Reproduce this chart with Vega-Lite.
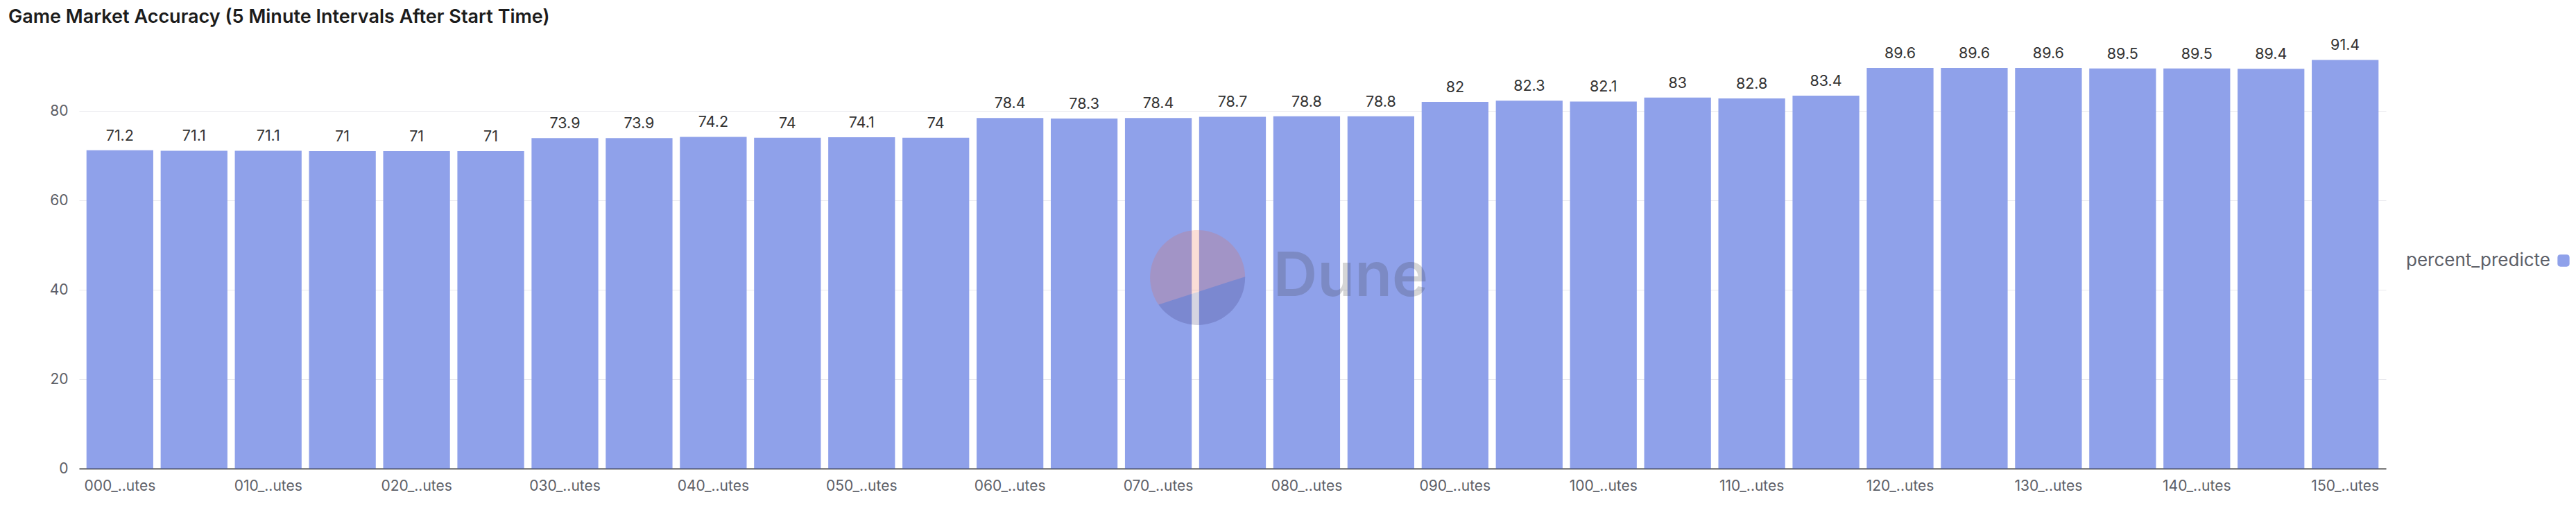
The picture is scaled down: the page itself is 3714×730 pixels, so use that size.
{
  "$schema": "https://vega.github.io/schema/vega-lite/v6.json",
  "width": 3326,
  "height": 645,
  "autosize": {"type": "none"},
  "padding": {"left": 114, "top": 31, "right": 274, "bottom": 54},
  "background": "white",
  "config": {"view": {"stroke": null}},
  "title": {
    "text": "Game Market Accuracy (5 Minute Intervals After Start Time)",
    "anchor": "start",
    "frame": "group",
    "dx": -102,
    "offset": -8,
    "font": "Inter",
    "fontSize": 27,
    "fontWeight": 600,
    "color": "#1c1c1c"
  },
  "data": {
    "values": [
      {"interval": "000_minutes", "percent_predicted": 71.2},
      {"interval": "005_minutes", "percent_predicted": 71.1},
      {"interval": "010_minutes", "percent_predicted": 71.1},
      {"interval": "015_minutes", "percent_predicted": 71},
      {"interval": "020_minutes", "percent_predicted": 71},
      {"interval": "025_minutes", "percent_predicted": 71},
      {"interval": "030_minutes", "percent_predicted": 73.9},
      {"interval": "035_minutes", "percent_predicted": 73.9},
      {"interval": "040_minutes", "percent_predicted": 74.2},
      {"interval": "045_minutes", "percent_predicted": 74},
      {"interval": "050_minutes", "percent_predicted": 74.1},
      {"interval": "055_minutes", "percent_predicted": 74},
      {"interval": "060_minutes", "percent_predicted": 78.4},
      {"interval": "065_minutes", "percent_predicted": 78.3},
      {"interval": "070_minutes", "percent_predicted": 78.4},
      {"interval": "075_minutes", "percent_predicted": 78.7},
      {"interval": "080_minutes", "percent_predicted": 78.8},
      {"interval": "085_minutes", "percent_predicted": 78.8},
      {"interval": "090_minutes", "percent_predicted": 82},
      {"interval": "095_minutes", "percent_predicted": 82.3},
      {"interval": "100_minutes", "percent_predicted": 82.1},
      {"interval": "105_minutes", "percent_predicted": 83},
      {"interval": "110_minutes", "percent_predicted": 82.8},
      {"interval": "115_minutes", "percent_predicted": 83.4},
      {"interval": "120_minutes", "percent_predicted": 89.6},
      {"interval": "125_minutes", "percent_predicted": 89.6},
      {"interval": "130_minutes", "percent_predicted": 89.6},
      {"interval": "135_minutes", "percent_predicted": 89.5},
      {"interval": "140_minutes", "percent_predicted": 89.5},
      {"interval": "145_minutes", "percent_predicted": 89.4},
      {"interval": "150_minutes", "percent_predicted": 91.4}
    ]
  },
  "layer": [
    {
      "mark": {"type": "bar"},
      "encoding": {
        "x": {
          "field": "interval",
          "type": "nominal",
          "sort": null,
          "scale": {"paddingInner": 0.1, "paddingOuter": 0.1},
          "axis": {
            "title": null,
            "values": ["000_minutes", "010_minutes", "020_minutes", "030_minutes", "040_minutes", "050_minutes", "060_minutes", "070_minutes", "080_minutes", "090_minutes", "100_minutes", "110_minutes", "120_minutes", "130_minutes", "140_minutes", "150_minutes"],
            "labelExpr": "slice(datum.label,0,4)+'..'+slice(datum.label,-4)",
            "labelAngle": 0,
            "ticks": false,
            "grid": false,
            "domainColor": "#1f1f1f",
            "domainWidth": 1.5,
            "labelFont": "Inter",
            "labelFontSize": 21,
            "labelColor": "#5d6068",
            "labelPadding": 14
          }
        },
        "y": {
          "field": "percent_predicted",
          "type": "quantitative",
          "scale": {"domain": [0, 100], "nice": false},
          "axis": {
            "title": null,
            "values": [0, 20, 40, 60, 80],
            "domain": false,
            "ticks": false,
            "gridColor": "#e9e9ee",
            "gridWidth": 1.2,
            "labelFont": "Inter",
            "labelFontSize": 21,
            "labelColor": "#5d6068",
            "labelPadding": 16
          }
        },
        "color": {
          "datum": "percent_predicted",
          "scale": {"range": ["#8fa1ea"]},
          "legend": {
            "title": null,
            "orient": "none",
            "legendX": 3569,
            "legendY": 332,
            "symbolType": "M -0.5 -1 L 0.5 -1 Q 1 -1 1 -0.5 L 1 0.5 Q 1 1 0.5 1 L -0.5 1 Q -1 1 -1 0.5 L -1 -0.5 Q -1 -1 -0.5 -1 Z",
            "symbolSize": 300,
            "symbolStrokeWidth": 0,
            "symbolOpacity": 1,
            "labelAlign": "right",
            "labelOffset": -32,
            "labelLimit": 0,
            "labelFont": "Inter",
            "labelFontSize": 26,
            "labelColor": "#5d6068",
            "labelExpr": "slice(datum.label,0,16)"
          }
        }
      }
    },
    {
      "mark": {"type": "text", "baseline": "bottom", "dy": -9, "font": "Inter", "fontSize": 21.5, "fill": "#333333"},
      "encoding": {
        "x": {"field": "interval", "type": "nominal", "sort": null},
        "y": {"field": "percent_predicted", "type": "quantitative"},
        "text": {"field": "percent_predicted", "type": "quantitative"}
      }
    },
    {
      "data": {"values": [{}]},
      "mark": {"type": "point", "shape": "M 1 -0.03 A 1 1 0 1 0 -0.82 0.56 Z", "size": 18769, "filled": true, "fill": "#ec6440", "opacity": 0.21, "strokeWidth": 0},
      "encoding": {
        "x": {"datum": "070_minutes", "bandPosition": 1.088},
        "y": {"datum": 42.6}
      }
    },
    {
      "data": {"values": [{}]},
      "mark": {"type": "point", "shape": "M 1 -0.03 A 1 1 0 0 1 -0.82 0.56 Z", "size": 18769, "filled": true, "fill": "#2b2a6b", "opacity": 0.2, "strokeWidth": 0},
      "encoding": {
        "x": {"datum": "070_minutes", "bandPosition": 1.088},
        "y": {"datum": 42.6}
      }
    },
    {
      "data": {"values": [{}]},
      "mark": {"type": "text", "text": "Dune", "align": "left", "baseline": "middle", "font": "Inter", "fontWeight": 600, "fontSize": 88, "fill": "#333333", "opacity": 0.2},
      "encoding": {
        "x": {"datum": "080_minutes", "bandPosition": 0},
        "y": {"datum": 42.6}
      }
    }
  ]
}
